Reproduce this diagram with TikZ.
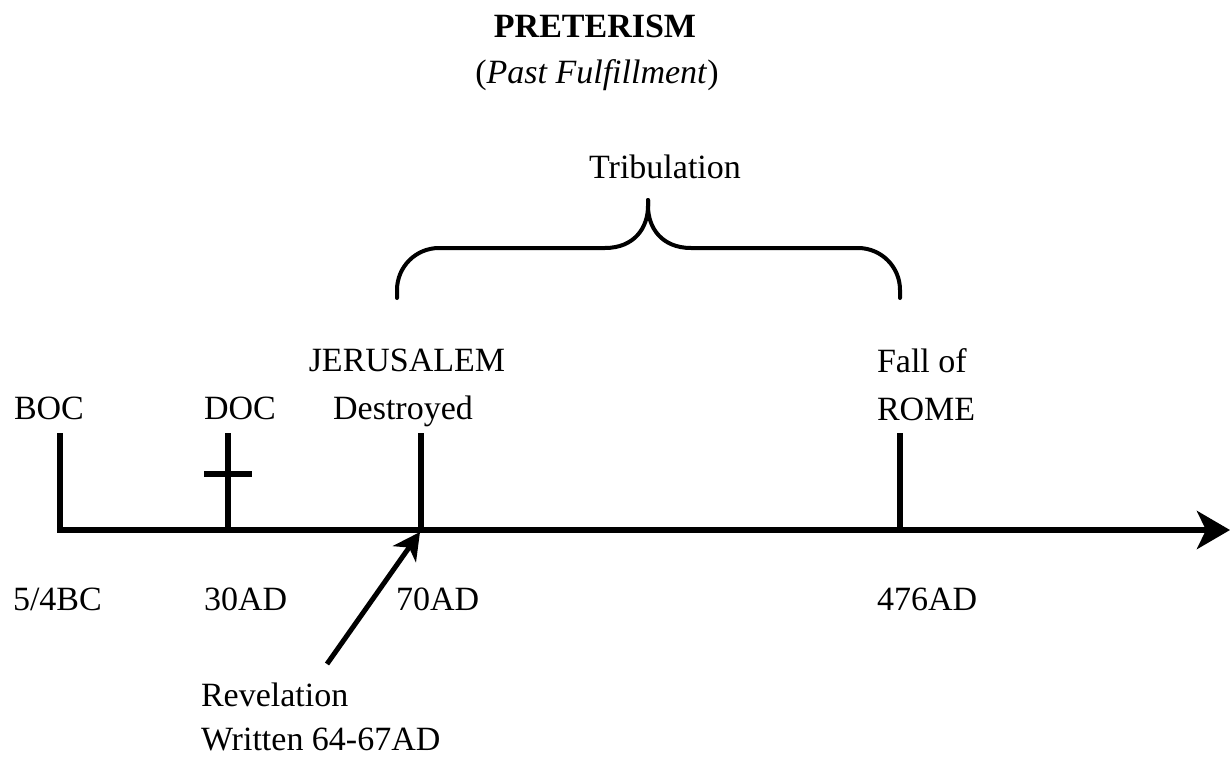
\documentclass[tikz,border=0pt]{standalone}
\usepackage{fontspec}
\setmainfont{Liberation Serif}
\usetikzlibrary{calc,arrows.meta}
\tikzset{tlbar/.style={
  line width=6.5,
  line cap=butt}}
\tikzset{tltext/.style={
  inner sep=0pt,
  outer sep=0pt,
  font=\fontsize{34}{40}\selectfont}}
\tikzset{tlbrace/.style={
  line width=4,
  line cap=round}}

\begin{document}
\begin{tikzpicture}[
  x=1pt,y=-1pt,
  tlarrow/.style={
    line width=5,
    -{Stealth[length=27,width=28,inset=8]}}
]
  \useasboundingbox (0,0) rectangle (1231,757);

  %%%% Title %%%%
  \node[tltext,anchor=base,font=\fontsize{34}{40}\selectfont\bfseries] (title) at (595,38) {PRETERISM};
  \node[tltext,anchor=base] (subtitle) at (597,84) {(\textit{Past Fulfillment})};

  %%%% Axis and ticks %%%%
  \coordinate (axisstart) at (57,530);
  \coordinate (axisend) at (1230,530);
  \draw[tlbar,-{Stealth[length=33,width=38,inset=9]}] (axisstart) -- (axisend);

  \foreach \name/\x in {boc/60,doc/228,jer/421,rome/900}{
    %% Set coordinates for each tick
    \coordinate (\name-top) at (\x,433);
    \coordinate (\name-foot) at (\x,533);
    \draw[tlbar] (\name-top) -- (\name-foot);
  }

  %% Cross on the DOC tick
  \coordinate (crossl) at (204,474);
  \coordinate (crossr) at (252,474);
  \draw[line width=5.5] (crossl) -- (crossr);

  %%%% Labels above the axis %%%%
  \node[tltext,anchor=base west] (boc) at (14,419) {BOC};
  \node[tltext,anchor=base west] (doc) at (204,419) {DOC};
  \node[tltext,anchor=base] (jer1) at (407,371) {JERUSALEM};
  \node[tltext,anchor=base] (jer2) at (403,419) {Destroyed};
  \node[tltext,anchor=base west] (rome1) at (877,372) {Fall of};
  \node[tltext,anchor=base west] (rome2) at (877,420) {ROME};

  %%%% Dates below the axis %%%%
  \node[tltext,anchor=base west] (d-boc) at (13,610) {5/4BC};
  \node[tltext,anchor=base west] (d-doc) at (204,610) {30AD};
  \node[tltext,anchor=base west] (d-jer) at (396,610) {70AD};
  \node[tltext,anchor=base west] (d-rome) at (877,610) {476AD};

  %%%% Revelation %%%%
  \node[tltext,anchor=base west] (rev1) at (201,706) {Revelation};
  \node[tltext,anchor=base west] (rev2) at (201,750) {Written 64-67AD};
  \coordinate (revtail) at (327,664);
  \coordinate (revtip) at (420,532);
  \draw[tlarrow] (revtail) -- (revtip);

  %%%% Tribulation brace %%%%
  \coordinate (brl) at (397,298);
  \coordinate (brr) at (900,298);
  \coordinate (brtop) at (648,200);
  \draw[tlbrace] (brl) -- (397,290) arc[start angle=180,end angle=270,radius=42]
    -- (605,248) .. controls (634,248) and (648,228) .. (648,206) -- (brtop);
  \draw[tlbrace] (brr) -- (900,290) arc[start angle=0,end angle=-90,radius=42]
    -- (691,248) .. controls (662,248) and (648,228) .. (648,206) -- (brtop);
  \node[tltext,anchor=base] (trib) at (665,178) {Tribulation};

\end{tikzpicture}
\end{document}
